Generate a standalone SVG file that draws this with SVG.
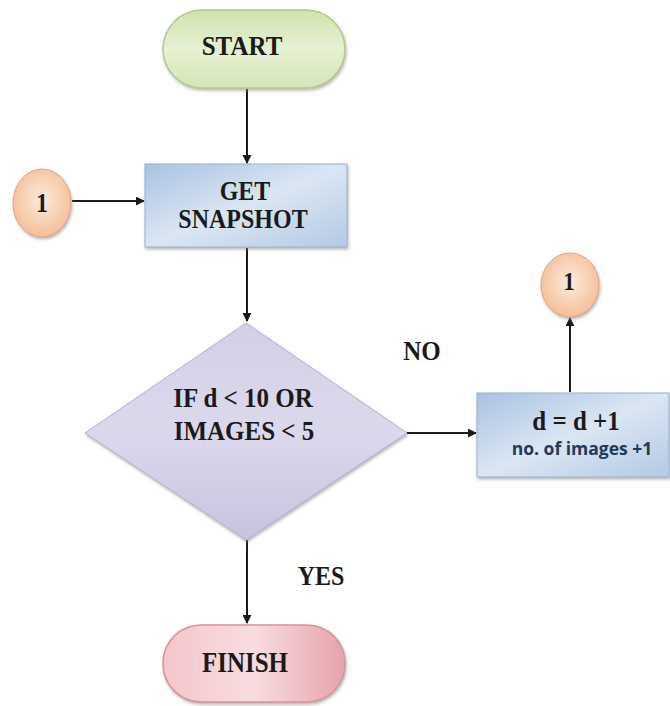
<svg xmlns="http://www.w3.org/2000/svg" width="670" height="706" viewBox="0 0 670 706">
<defs>
<linearGradient id="gGreen" x1="0" y1="0" x2="0" y2="1">
<stop offset="0" stop-color="#cfe3ad"/><stop offset="0.5" stop-color="#e6f0d2"/><stop offset="1" stop-color="#d4e6b5"/>
</linearGradient>
<linearGradient id="gBlue" x1="0" y1="0" x2="1" y2="1">
<stop offset="0" stop-color="#a9c2e2"/><stop offset="0.5" stop-color="#dbe6f3"/><stop offset="1" stop-color="#b3c9e4"/>
</linearGradient>
<linearGradient id="gPurple" x1="0" y1="0" x2="0" y2="1">
<stop offset="0" stop-color="#d3cfe6"/><stop offset="0.5" stop-color="#dcd8ec"/><stop offset="1" stop-color="#c9c2e0"/>
</linearGradient>
<linearGradient id="gPink" x1="0" y1="0" x2="1" y2="0">
<stop offset="0" stop-color="#f3c6cb"/><stop offset="0.5" stop-color="#f8dde0"/><stop offset="1" stop-color="#e6a3ab"/>
</linearGradient>
<radialGradient id="gPeach" cx="0.5" cy="0.45" r="0.6">
<stop offset="0" stop-color="#fdebdc"/><stop offset="1" stop-color="#f3bb93"/>
</radialGradient>
<marker id="arr" viewBox="0 0 10 10" refX="9" refY="5" markerWidth="9" markerHeight="9" markerUnits="userSpaceOnUse" orient="auto">
<path d="M0,0 L10,5 L0,10 z" fill="#1a1a1a"/>
</marker>
<filter id="sh" x="-10%" y="-10%" width="125%" height="130%">
<feDropShadow dx="1" dy="2" stdDeviation="1.5" flood-color="#888" flood-opacity="0.6"/>
</filter>
</defs>
<style>
.lbl{font-family:"Times New Roman","Liberation Serif","DejaVu Serif",serif;font-weight:bold;fill:#1a1a1a;text-anchor:middle;font-size:25px;}
.small{font-family:"Open Sans","Liberation Sans",sans-serif;font-weight:bold;fill:#1f3a5a;text-anchor:middle;}
.conn{stroke:#1a1a1a;stroke-width:2;fill:none;marker-end:url(#arr);}
</style>
<g id="connectors">
<line class="conn" x1="247" y1="89" x2="247" y2="163"/>
<line class="conn" x1="72" y1="201" x2="144" y2="201"/>
<line class="conn" x1="247" y1="248" x2="247" y2="321"/>
<line class="conn" x1="407" y1="433" x2="476" y2="433"/>
<line class="conn" x1="570" y1="392" x2="570" y2="318"/>
<line class="conn" x1="247" y1="540" x2="247" y2="623"/>
</g>
<g id="start">
<rect x="163" y="10" width="182" height="78" rx="39" fill="url(#gGreen)" stroke="#b4c98f" stroke-width="1.5" filter="url(#sh)"/>
<text class="lbl" transform="translate(242,55) scale(1,1.12)">START</text>
</g>
<g id="connector1_left">
<ellipse cx="42" cy="203" rx="29" ry="34" fill="url(#gPeach)" stroke="#e2a57d" stroke-width="1" filter="url(#sh)"/>
<text class="lbl" transform="translate(42,212) scale(1,1.12)" style="font-size:24px">1</text>
</g>
<g id="snapshot">
<rect x="145" y="164" width="202" height="83" fill="url(#gBlue)" stroke="#9ab2d2" stroke-width="1" filter="url(#sh)"/>
<text class="lbl" transform="translate(245,200) scale(1,1.12)" style="font-size:24px">GET</text>
<text class="lbl" transform="translate(243,228) scale(1,1.12)" style="font-size:24px">SNAPSHOT</text>
</g>
<g id="decision">
<polygon points="246,323 407,433 246,540 85,433" fill="url(#gPurple)" stroke="#b7b0d0" stroke-width="1" filter="url(#sh)"/>
<text class="lbl" transform="translate(243,407) scale(1,1.12)">IF d &lt; 10 OR</text>
<text class="lbl" transform="translate(244,440) scale(1,1.12)">IMAGES &lt; 5</text>
</g>
<g id="labels">
<text class="lbl" transform="translate(422,360) scale(1,1.08)">NO</text>
<text class="lbl" transform="translate(321,585) scale(1,1.12)" style="font-size:24px">YES</text>
</g>
<g id="increment">
<rect x="477" y="393" width="192" height="84" fill="url(#gBlue)" stroke="#9ab2d2" stroke-width="1" filter="url(#sh)"/>
<text class="lbl" transform="translate(576,430) scale(1,1.12)">d = d +1</text>
<text class="small" x="582" y="455" font-size="17.5">no. of images +1</text>
</g>
<g id="connector1_right">
<ellipse cx="570" cy="285" rx="29" ry="32" fill="url(#gPeach)" stroke="#e2a57d" stroke-width="1" filter="url(#sh)"/>
<text class="lbl" transform="translate(569,290) scale(1,1.05)" style="font-size:23px">1</text>
</g>
<g id="finish">
<rect x="163" y="625" width="182" height="77" rx="38" fill="url(#gPink)" stroke="#d9939c" stroke-width="1.5" filter="url(#sh)"/>
<text class="lbl" transform="translate(245,672) scale(1,1.15)">FINISH</text>
</g>
</svg>
